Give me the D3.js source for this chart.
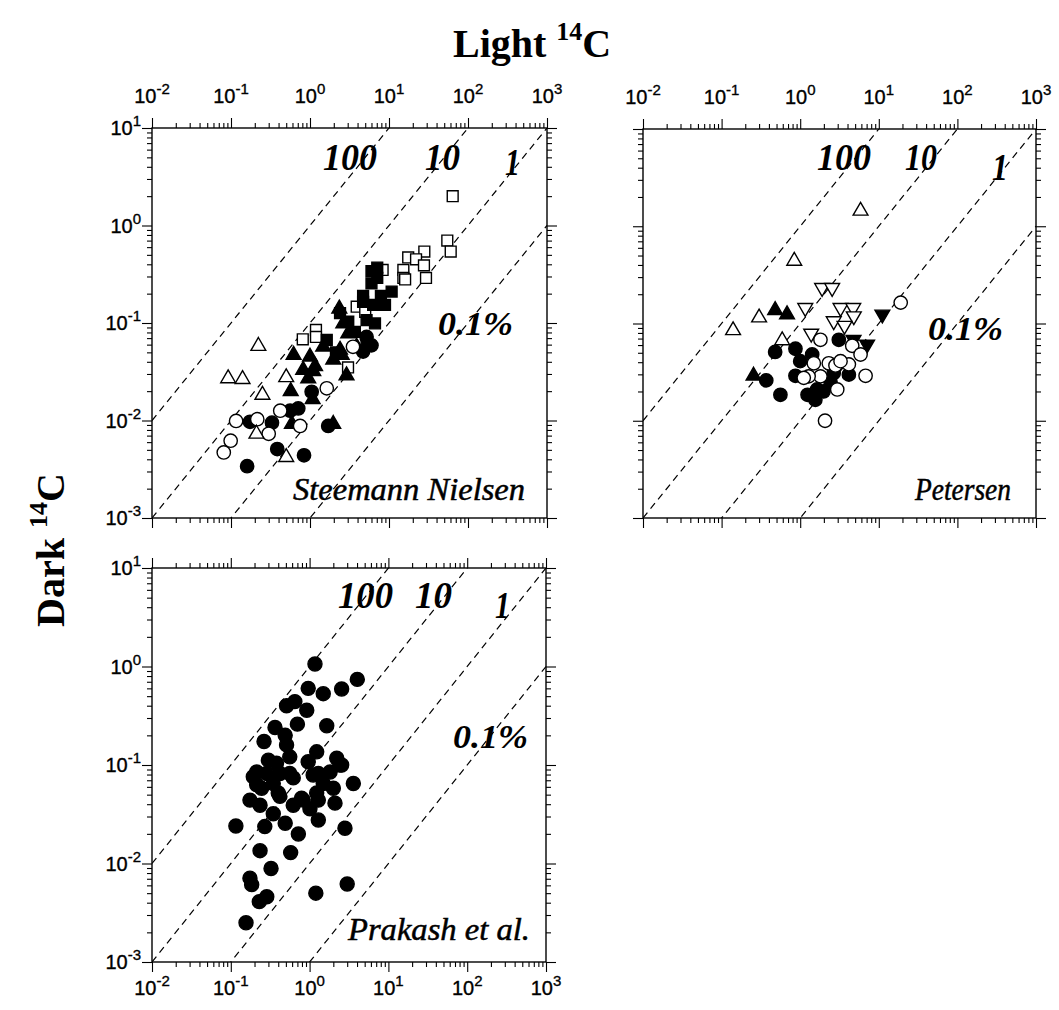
<!DOCTYPE html>
<html><head><meta charset="utf-8">
<script src="https://cdn.jsdelivr.net/npm/d3@7"></script>
<style>body{margin:0;background:#fff}</style>
</head><body>
<svg id="c" width="1059" height="1010" xmlns="http://www.w3.org/2000/svg"></svg>
<script>
// ---------- tick labels / constants ----------
const xTickExps = [-2, -1, 0, 1, 2, 3];
const yTickExps = [-3, -2, -1, 0, 1];
const ratioLines = [1, 0.1, 0.01, 0.001];
const ratioLabels = ["100", "10", "1", "0.1%"];
const panelNames = ["Steemann Nielsen", "Petersen", "Prakash et al."];

// ---------- data: [light 14C, dark 14C] ----------
// Steemann Nielsen
const snOpenSquares = [[64,2.0],[54.7,0.70],[60.4,0.54],[28,0.54],[17.5,0.47],[22,0.45],[27.7,0.39],[29.4,0.29],[15.2,0.35],[15.2,0.29],[16,0.28],[8.3,0.35],[3.9,0.147],[5.0,0.13],[0.81,0.068],[1.19,0.085],[1.19,0.072],[3.03,0.035]];
const snFilledSquares = [[7.1,0.37],[6.0,0.34],[7.1,0.29],[6.0,0.255],[10.8,0.21],[4.7,0.19],[7.9,0.19],[8.9,0.153],[6.3,0.153],[2.4,0.126],[3.05,0.103],[5.2,0.107],[6.65,0.099],[3.7,0.081],[5.2,0.062],[1.63,0.067],[4.7,0.165],[2.13,0.050]];
const snFilledTriangles = [[2.35,0.14],[2.64,0.099],[3.05,0.078],[1.47,0.057],[2.4,0.053],[2.9,0.029],[1.0,0.045],[0.62,0.047],[0.82,0.033],[1.1,0.032],[1.97,0.042],[3.9,0.057],[0.59,0.0092],[0.57,0.020],[1.08,0.0165],[1.97,0.0092],[1.16,0.036],[0.95,0.027],[2.52,0.047]];
const snFilledCircles = [[0.174,0.0097],[0.33,0.0095],[0.56,0.0126],[0.71,0.0133],[1.05,0.0197],[1.7,0.0088],[0.385,0.0051],[0.84,0.0044],[0.16,0.0034],[6.0,0.059],[5.2,0.072],[4.7,0.051]];
const snOpenCircles = [[0.116,0.0099],[0.215,0.0103],[0.099,0.0062],[0.081,0.0047],[0.30,0.0073],[0.42,0.0126],[1.63,0.0214],[0.75,0.0088],[3.5,0.057]];
const snOpenTriangles = [[0.222,0.058],[0.092,0.027],[0.14,0.0265],[0.50,0.0277],[0.25,0.0183],[0.21,0.0073],[0.50,0.0042]];
// Petersen
const ptOpenTriangles = [[5.86,1.44],[0.84,0.44],[0.30,0.115],[0.14,0.085],[0.59,0.067]];
const ptFilledTriangles = [[0.48,0.137],[0.68,0.124],[0.255,0.029]];
const ptOpenInvTriangles = [[1.9,0.233],[2.55,0.233],[1.16,0.145],[3.26,0.145],[4.73,0.145],[4.81,0.119],[2.67,0.106],[3.66,0.095],[1.38,0.079]];
const ptFilledInvTriangles = [[11.1,0.124],[7.1,0.061],[4.77,0.068]];
const ptOpenCircles = [[19,0.164],[1.81,0.068],[4.59,0.059],[5.86,0.048],[2.31,0.039],[2.81,0.037],[1.81,0.0286],[6.79,0.029],[4.16,0.038],[2.96,0.021],[2.07,0.010],[1.28,0.0286],[3.26,0.041],[1.49,0.039],[1.11,0.0276]];
const ptFilledCircles = [[0.48,0.051],[0.87,0.055],[1.42,0.048],[1.0,0.041],[0.37,0.026],[0.87,0.029],[0.56,0.0185],[1.24,0.0185],[1.64,0.021],[1.56,0.0164],[2.43,0.025],[2.67,0.031],[3.1,0.068],[4.16,0.0298],[2.43,0.038],[1.49,0.0178],[1.98,0.020]];
// Prakash et al.
const prFilledCircles = [[1.17,1.06],[0.96,0.60],[1.49,0.53],[2.55,0.59],[4.03,0.74],[0.51,0.40],[0.65,0.44],[0.92,0.36],[0.70,0.26],[1.65,0.25],[0.364,0.24],[0.264,0.173],[0.49,0.20],[0.51,0.16],[0.213,0.085],[0.30,0.112],[0.38,0.104],[0.56,0.121],[1.23,0.136],[0.96,0.108],[2.21,0.117],[2.55,0.10],[1.82,0.085],[1.29,0.082],[3.59,0.065],[0.56,0.082],[0.42,0.082],[0.286,0.082],[0.193,0.076],[0.175,0.044],[0.235,0.039],[0.40,0.052],[0.62,0.039],[0.83,0.044],[1.29,0.044],[2.0,0.058],[2.1,0.041],[1.29,0.0277],[1.01,0.036],[0.346,0.032],[0.49,0.0256],[0.116,0.024],[0.27,0.0237],[0.72,0.0199],[2.81,0.0228],[0.235,0.0135],[0.575,0.0129],[0.324,0.0089],[0.175,0.0071],[0.184,0.0061],[0.286,0.0046],[0.23,0.0041],[1.2,0.0050],[3.0,0.0062],[0.156,0.0025],[0.213,0.063],[0.346,0.065],[1.49,0.065],[2.43,0.10],[0.246,0.058],[0.42,0.048],[0.79,0.046],[1.23,0.052],[1.11,0.079],[0.62,0.074]];

// ---------- layout ----------
const svg = d3.select("#c");
const serif = "'Liberation Serif', 'DejaVu Serif', serif";
const sans = "'Liberation Sans', Arial, sans-serif";

const panels = [
  { x0:152, x1:547, y0:128, y1:518, top:true, left:true, bottom:false, name:panelNames[0],
    series:[
      {d:snOpenSquares, t:d3.symbolSquare, s:118, f:false},
      {d:snFilledSquares, t:d3.symbolSquare, s:118, f:true},
      {d:snFilledTriangles, t:d3.symbolTriangle, s:95, f:true},
      {d:snFilledCircles, t:d3.symbolCircle, s:140, f:true},
      {d:snOpenCircles, t:d3.symbolCircle, s:140, f:false},
      {d:snOpenTriangles, t:d3.symbolTriangle, s:95, f:false}],
    lab:[[171,42,54],[273,42,35],[353,47,15],[286,207,75]], nm:[141,372,232] },
  { x0:643, x1:1036, y0:129, y1:518, top:true, left:false, bottom:false, name:panelNames[1],
    series:[
      {d:ptOpenTriangles, t:d3.symbolTriangle, s:95, f:false},
      {d:ptFilledTriangles, t:d3.symbolTriangle, s:95, f:true},
      {d:ptOpenInvTriangles, t:d3.symbolTriangle, s:95, f:false, inv:true},
      {d:ptFilledInvTriangles, t:d3.symbolTriangle, s:95, f:true, inv:true},
      {d:ptFilledCircles, t:d3.symbolCircle, s:140, f:true},
      {d:ptOpenCircles, t:d3.symbolCircle, s:140, f:false}],
    lab:[[174,41,54],[262,41,32],[349,51,16],[285,211,75]], nm:[272,371,96] },
  { x0:152, x1:546, y0:568, y1:962, top:false, left:true, bottom:true, name:panelNames[2],
    series:[
      {d:prFilledCircles, t:d3.symbolCircle, s:155, f:true}],
    lab:[[186,40,55],[263,40,37],[343,50,15],[301,180,75]], nm:[196,372,182] }
];

function expText(sel, e) {
  sel.text("10");
  sel.append("tspan").attr("dy", -9).attr("font-size", 15).text(String(e));
}

panels.forEach((p, i) => {
  const x = d3.scaleLog().domain([1e-2, 1e3]).range([p.x0, p.x1]);
  const y = d3.scaleLog().domain([1e-3, 1e1]).range([p.y1, p.y0]);
  const g = svg.append("g");
  const cid = "clip" + i;
  svg.append("clipPath").attr("id", cid).append("rect")
    .attr("x", p.x0).attr("y", p.y0).attr("width", p.x1 - p.x0).attr("height", p.y1 - p.y0);

  // ticks
  const xMajor = xTickExps.map(e => Math.pow(10, e));
  const yMajor = yTickExps.map(e => Math.pow(10, e));
  const xMinor = [], yMinor = [];
  xTickExps.slice(0, -1).forEach(e => { for (let k = 2; k < 10; k++) xMinor.push(k * Math.pow(10, e)); });
  yTickExps.slice(0, -1).forEach(e => { for (let k = 2; k < 10; k++) yMinor.push(k * Math.pow(10, e)); });

  const axes = [
    [d3.axisTop(x), `translate(0,${p.y0})`, xMajor, xMinor],
    [d3.axisBottom(x), `translate(0,${p.y1})`, xMajor, xMinor],
    [d3.axisLeft(y), `translate(${p.x0},0)`, yMajor, yMinor],
    [d3.axisRight(y), `translate(${p.x1},0)`, yMajor, yMinor]
  ];
  axes.forEach(([ax, tr, maj, min]) => {
    const a1 = g.append("g").attr("transform", tr)
      .call(ax.tickValues(maj).tickSize(10).tickFormat(""));
    a1.select(".domain").remove();
    const a2 = g.append("g").attr("transform", tr)
      .call(ax.tickValues(min).tickSize(5).tickFormat(""));
    a2.select(".domain").remove();
  });
  g.selectAll(".tick line").attr("stroke", "#000").attr("stroke-width", 1.1);

  // frame
  g.append("rect").attr("x", p.x0).attr("y", p.y0)
    .attr("width", p.x1 - p.x0).attr("height", p.y1 - p.y0)
    .attr("fill", "none").attr("stroke", "#000").attr("stroke-width", 1.4);

  // tick labels
  const lbl = (sx, sy, anchor, e) => g.append("text").attr("x", sx).attr("y", sy)
      .attr("text-anchor", anchor).attr("font-family", sans).attr("font-size", 20)
      .attr("stroke", "#000").attr("stroke-width", 0.35).call(expText, e);
  if (p.top) xMajor.forEach((v, k) => lbl(x(v), p.y0 - 25, "middle", xTickExps[k]));
  if (p.bottom) xMajor.forEach((v, k) => lbl(x(v), p.y1 + 33, "middle", xTickExps[k]));
  if (p.left) yMajor.forEach((v, k) => lbl(p.x0 - 11, y(v) + 7, "end", yTickExps[k]));

  // ratio lines
  const lg = g.append("g").attr("clip-path", `url(#${cid})`);
  ratioLines.forEach(r => {
    lg.append("line")
      .attr("x1", x(1e-2)).attr("y1", y(r * 1e-2))
      .attr("x2", x(1e3)).attr("y2", y(r * 1e3))
      .attr("stroke", "#000").attr("stroke-width", 1.2).attr("stroke-dasharray", "7,5");
  });

  // ratio labels
  ratioLabels.forEach((t, k) => {
    const [dx, dy, w] = p.lab[k];
    g.append("text").attr("x", p.x0 + dx).attr("y", p.y0 + dy)
      .attr("font-family", serif).attr("font-weight", "bold").attr("font-style", "italic")
      .attr("font-size", k === 3 ? 33 : 38)
      .attr("textLength", w).attr("lengthAdjust", "spacingAndGlyphs").text(t);
  });

  // name
  g.append("text").attr("x", p.x0 + p.nm[0]).attr("y", p.y0 + p.nm[1])
    .attr("font-family", serif).attr("font-style", "italic").attr("font-size", 31)
    .attr("stroke", "#000").attr("stroke-width", 0.5)
    .attr("textLength", p.nm[2]).attr("lengthAdjust", "spacingAndGlyphs").text(p.name);

  // points
  const pg = g.append("g").attr("clip-path", `url(#${cid})`);
  p.series.forEach(s => {
    const path = d3.symbol().type(s.t).size(s.s)();
    pg.selectAll(null).data(s.d).join("path")
      .attr("d", path)
      .attr("transform", d => `translate(${x(d[0])},${y(d[1])})` + (s.inv ? " rotate(180)" : ""))
      .attr("fill", s.f ? "#000" : "#fff")
      .attr("stroke", "#000").attr("stroke-width", 1.4);
  });
});

// axis titles
const t1 = svg.append("text").attr("x", 453).attr("y", 57)
  .attr("font-family", serif).attr("font-weight", "bold").attr("font-size", 40);
t1.append("tspan").text("Light ");
t1.append("tspan").attr("dy", -17).attr("font-size", 26).text("14");
t1.append("tspan").attr("dy", 17).text("C");

const t2 = svg.append("text").attr("transform", "translate(64,627) rotate(-90)")
  .attr("font-family", serif).attr("font-weight", "bold").attr("font-size", 40);
t2.append("tspan").text("Dark ");
t2.append("tspan").attr("dy", -17).attr("font-size", 26).text("14");
t2.append("tspan").attr("dy", 17).text("C");
</script>
</body></html>
